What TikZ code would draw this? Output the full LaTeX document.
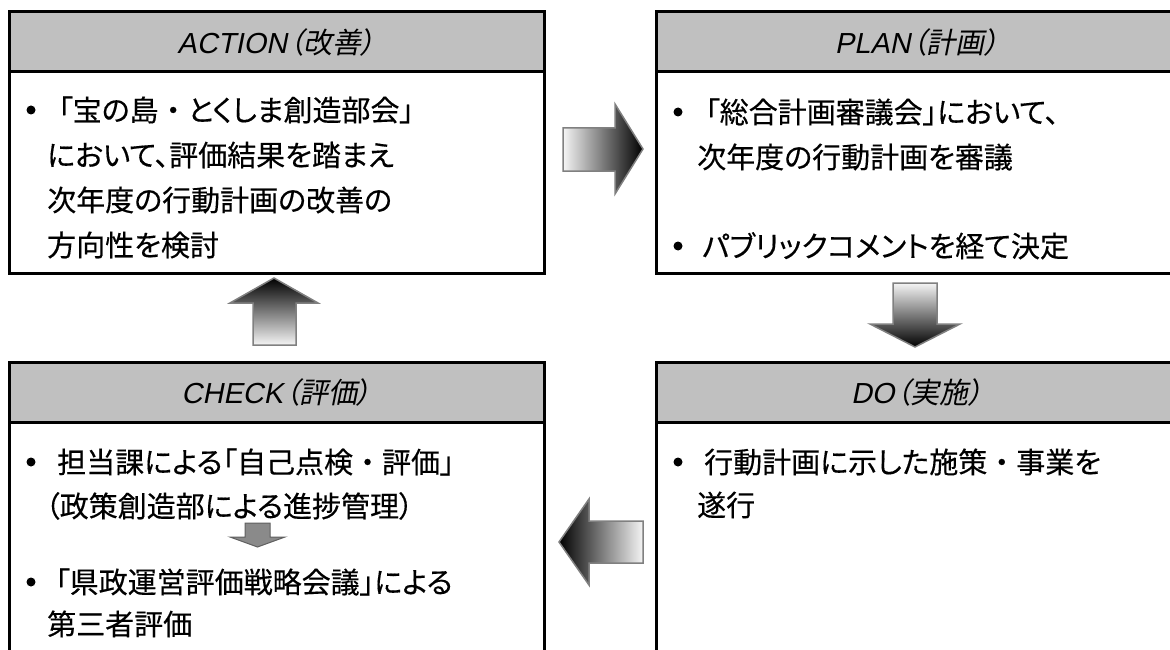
\documentclass[tikz,border=0pt]{standalone}
\usepackage{fontspec}
\newfontfamily\jp[FakeBold=0.35,RawFeature=+palt]{Noto Sans CJK JP}
\newfontfamily\jpf[FakeBold=0.35]{Noto Sans CJK JP}
\newfontfamily\hlat[FakeSlant=0.2]{Liberation Sans}
\newfontfamily\hjp[FakeSlant=0.2,RawFeature=+palt]{Noto Sans CJK JP}
\newcommand\fw[1]{{\jpf #1}}
\definecolor{hdrgray}{HTML}{C0C0C0}
\definecolor{arrowedge}{HTML}{808080}
\definecolor{smallfill}{HTML}{8A8A8A}
\definecolor{smalledge}{HTML}{606060}
\begin{document}
\begin{tikzpicture}[x=1pt,y=-1pt,
  frame/.style={line width=3pt, draw=black},
  hdrbox/.style={frame, fill=hdrgray, minimum height=60pt, inner sep=0pt,
    font=\fontsize{29}{29}\selectfont},
  body/.style={anchor=base west, inner sep=0pt, font=\jp\fontsize{29}{29}\selectfont},
  bul/.style={circle, fill=black, inner sep=0pt, minimum size=9pt},
  bigarrow/.style={draw=arrowedge, line width=1.5pt, line join=miter},
  smallarrow/.style={fill=smallfill, draw=smalledge, line width=1pt}]
\useasboundingbox (0,0) rectangle (1170,650);
\fill[white] (0,0) rectangle (1170,650);

% boxes
\draw[frame] (9,72) rectangle (544,273);
\draw[frame] (656,72) rectangle (1178,273);
\draw[frame] (9,422) rectangle (544,680);
\draw[frame] (656,422) rectangle (1178,680);

\node[hdrbox, minimum width=535pt] (acth) at (276.5,42) {{\hlat ACTION}\hspace{1.5pt}{\hjp （改善）}};
\node[hdrbox, minimum width=522pt] (planh) at (917,42) {{\hlat PLAN}\hspace{1.5pt}{\hjp （計画）}};
\node[hdrbox, minimum width=535pt] (checkh) at (276.5,392) {{\hlat CHECK}\hspace{1.5pt}{\hjp （評価）}};
\node[hdrbox, minimum width=522pt] (doh) at (917,392) {{\hlat DO}\hspace{1.5pt}{\hjp （実施）}};

% ACTION text
\node[bul] (ab1) at (31,110) {};
\node[body] (a1) at (58,121) {「宝の島\fw{・}とくしま創造部会」};
\node[body] (a2) at (47,166) {において、評価結果を踏まえ};
\node[body] (a3) at (47,211) {次年度の行動計画の改善の};
\node[body] (a4) at (47,256) {方向性を検討};

% PLAN text
\node[bul] (pb1) at (678,112) {};
\node[body] (p1) at (705,123) {「総合計画審議会」において、};
\node[body] (p2) at (697,168) {次年度の行動計画を審議};
\node[bul] (pb2) at (678,246) {};
\node[body] (p3) at (702,257) {パブリックコメントを経て決定};

% CHECK text
\node[bul] (cb1) at (31,462) {};
\node[body] (c1) at (57,473) {担当課による「自己点検\fw{・}評価」};
\node[body] (c2) at (45,517) {（政策創造部による進捗管理）};
\node[bul] (cb2) at (31,582) {};
\node[body] (c3) at (55,593) {「県政運営評価戦略会議」による};
\node[body] (c4) at (47,635) {第三者評価};

% DO text
\node[bul] (db1) at (678,462) {};
\node[body] (d1) at (704,473) {行動計画に示した施策\fw{・}事業を};
\node[body] (d2) at (697,516) {遂行};

% block arrows
\shadedraw[bigarrow, left color=gray!8, right color=black]
  (563,128) -- (615,128) -- (615,104) -- (643,149) -- (615,194) -- (615,171) -- (563,171) -- cycle;
\shadedraw[bigarrow, top color=gray!8, bottom color=black]
  (893,283) -- (937,283) -- (937,324) -- (960,324) -- (915,347) -- (870,324) -- (893,324) -- cycle;
\shadedraw[bigarrow, left color=black, right color=gray!8]
  (643,521) -- (589,521) -- (589,499) -- (559,542) -- (589,585) -- (589,563) -- (643,563) -- cycle;
\shadedraw[bigarrow, top color=black, bottom color=gray!8]
  (253,345) -- (296,345) -- (296,303) -- (318,303) -- (274,278) -- (230,303) -- (253,303) -- cycle;

% small arrow in CHECK
\filldraw[smallarrow]
  (245,523) -- (270,523) -- (270,537) -- (285,537) -- (257.5,547) -- (230,537) -- (245,537) -- cycle;
\end{tikzpicture}
\end{document}
